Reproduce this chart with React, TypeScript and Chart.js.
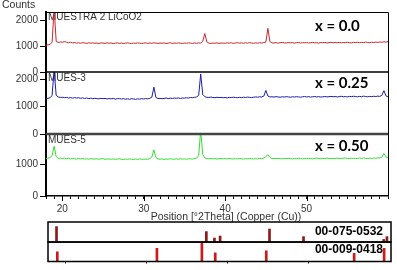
import React, { useEffect, useRef } from 'react';
import { Chart, registerables } from 'chart.js';

Chart.register(...registerables);

// 2Theta sampling grid (degrees), 0.25° step from 18 to 60
const angles: number[] = Array.from({ length: 169 }, (_, i) => 18 + i * 0.25);

// Counts, MUESTRA 2 LiCoO2 (x = 0.0)
const redCounts = [
  1030, 1045, 1060, 1150, 2450, 1180, 1130, 1160,
  1140, 1170, 1150, 1125, 1145, 1120, 1135, 1110,
  1125, 1105, 1130, 1115, 1100, 1125, 1110, 1120,
  1105, 1115, 1095, 1120, 1110, 1100, 1125, 1105,
  1115, 1090, 1110, 1120, 1100, 1115, 1095, 1110,
  1120, 1105, 1095, 1115, 1100, 1120, 1110, 1095,
  1110, 1120, 1100, 1115, 1105, 1125, 1110, 1100,
  1115, 1105, 1120, 1095, 1110, 1125, 1100, 1115,
  1105, 1120, 1110, 1095, 1115, 1105, 1120, 1110,
  1100, 1115, 1105, 1120, 1110, 1180, 1480, 1160,
  1110, 1100, 1115, 1105, 1120, 1100, 1115, 1110,
  1105, 1120, 1110, 1125, 1100, 1115, 1130, 1110,
  1120, 1105, 1125, 1110, 1130, 1115, 1105, 1120,
  1110, 1125, 1115, 1130, 1150, 1680, 1170, 1120,
  1115, 1130, 1110, 1125, 1140, 1120, 1115, 1135,
  1120, 1130, 1110, 1125, 1140, 1115, 1130, 1120,
  1135, 1115, 1125, 1140, 1120, 1130, 1110, 1135,
  1125, 1140, 1115, 1130, 1145, 1120, 1135, 1125,
  1140, 1120, 1135, 1125, 1145, 1130, 1120, 1140,
  1130, 1145, 1125, 1140, 1130, 1150, 1135, 1125,
  1145, 1135, 1150, 1140, 1155, 1145, 1160, 1150,
  1165,
];

// Counts, MUES-3 (x = 0.25)
const blueCounts = [
  1300, 1310, 1330, 1420, 2350, 1420, 1360, 1340,
  1350, 1330, 1345, 1320, 1340, 1315, 1335, 1320,
  1330, 1310, 1325, 1305, 1320, 1300, 1315, 1295,
  1310, 1300, 1290, 1310, 1295, 1305, 1285, 1300,
  1290, 1305, 1280, 1295, 1300, 1285, 1295, 1280,
  1290, 1275, 1295, 1285, 1270, 1290, 1280, 1295,
  1285, 1300, 1290, 1310, 1350, 1720, 1340, 1300,
  1310, 1295, 1305, 1320, 1300, 1315, 1305, 1320,
  1310, 1325, 1305, 1320, 1315, 1330, 1320, 1340,
  1330, 1345, 1360, 1420, 2200, 1450, 1370, 1345,
  1340, 1355, 1340, 1330, 1350, 1335, 1345, 1330,
  1340, 1325, 1345, 1335, 1350, 1340, 1330, 1345,
  1335, 1350, 1340, 1355, 1345, 1335, 1350, 1360,
  1350, 1365, 1360, 1390, 1600, 1395, 1360, 1365,
  1355, 1370, 1360, 1350, 1365, 1355, 1370, 1360,
  1350, 1365, 1355, 1370, 1360, 1350, 1365, 1375,
  1360, 1370, 1355, 1365, 1375, 1360, 1370, 1355,
  1365, 1375, 1360, 1370, 1380, 1365, 1375, 1360,
  1370, 1385, 1365, 1375, 1360, 1380, 1370, 1385,
  1375, 1365, 1380, 1370, 1390, 1375, 1365, 1380,
  1370, 1385, 1375, 1390, 1380, 1420, 1590, 1400,
  1360,
];

// Counts, MUES-5 (x = 0.50)
const greenCounts = [
  1200, 1210, 1220, 1300, 1590, 1260, 1200, 1215,
  1195, 1210, 1190, 1205, 1185, 1200, 1190, 1180,
  1195, 1185, 1200, 1180, 1190, 1175, 1195, 1185,
  1180, 1190, 1175, 1185, 1195, 1170, 1185, 1180,
  1175, 1185, 1170, 1180, 1190, 1175, 1165, 1180,
  1170, 1185, 1175, 1165, 1180, 1170, 1185, 1175,
  1170, 1180, 1175, 1190, 1250, 1470, 1230, 1180,
  1175, 1185, 1170, 1180, 1175, 1190, 1180, 1175,
  1185, 1175, 1190, 1180, 1185, 1175, 1190, 1185,
  1180, 1195, 1210, 1290, 2100, 1320, 1220, 1195,
  1190, 1200, 1185, 1195, 1180, 1190, 1200, 1185,
  1195, 1185, 1200, 1190, 1180, 1195, 1185, 1200,
  1190, 1180, 1195, 1185, 1200, 1190, 1185, 1195,
  1185, 1200, 1190, 1210, 1260, 1320, 1230, 1195,
  1200, 1190, 1205, 1195, 1185, 1200, 1190, 1205,
  1195, 1185, 1200, 1190, 1205, 1195, 1185, 1200,
  1190, 1205, 1195, 1185, 1200, 1210, 1195, 1190,
  1205, 1195, 1210, 1200, 1190, 1205, 1195, 1210,
  1200, 1190, 1205, 1215, 1200, 1195, 1210, 1200,
  1205, 1195, 1210, 1200, 1215, 1205, 1195, 1210,
  1200, 1215, 1205, 1220, 1210, 1240, 1360, 1250,
  1220,
];

const panelNames = ['MUESTRA 2 LiCoO2', 'MUES-3', 'MUES-5'];
const compositionLabels = ['x = 0.0', 'x = 0.25', 'x = 0.50'];
const panelMax = [2308, 2275, 1980];
const yTickValues = [0, 1000, 2000];
const xMajorTicks = [20, 30, 40, 50];

// Reference patterns (relative intensity)
const refCodes = ['00-075-0532', '00-009-0418'];
const licoo2Positions = [18.9, 37.4, 38.4, 39.1, 45.2, 49.4, 59.3, 59.7];
const licoo2Intensities = [77, 52, 20, 30, 65, 27, 13, 27];
const co3o4Positions = [19.0, 31.3, 36.85, 38.5, 44.8, 55.65, 59.35];
const co3o4Intensities = [50, 68, 93, 45, 55, 42, 68];

const AXIS_FONT = { family: '"Liberation Sans", Arial, sans-serif', size: 10 };

function yPanel(max: number, weight: number) {
  return {
    type: 'linear',
    min: 0,
    max,
    position: 'left',
    stack: 'panels',
    stackWeight: weight,
    offset: false,
    border: { display: true, color: '#000', width: 2 },
    grid: { display: true, drawOnChartArea: false, drawTicks: true, tickLength: 6, color: '#000', lineWidth: 1 },
    ticks: { font: AXIS_FONT, color: '#333', padding: 2, autoSkip: false, callback: (v: any) => String(v) },
    afterBuildTicks: (s: any) => {
      s.ticks = yTickValues.filter((v) => v <= s.max).map((v) => ({ value: v }));
    },
    afterFit: (s: any) => {
      s.width = 46;
    },
  };
}

const mainPlugin = {
  id: 'mainDecor',
  beforeDatasetsDraw(chart: any) {
    const ctx = chart.ctx;
    const ids = ['yRed', 'yBlue', 'yGreen'];
    const nameOffsets = [5, 6, 6];
    const compOffsets = [14.5, 11.5, 12.5];
    ctx.save();
    ids.forEach((id, k) => {
      const s = chart.scales[id];
      ctx.font = '10px "Liberation Sans", Arial, sans-serif';
      ctx.fillStyle = '#333';
      ctx.textAlign = 'left';
      ctx.textBaseline = 'middle';
      ctx.fillText(panelNames[k], chart.chartArea.left + 2, s.top + nameOffsets[k]);
      ctx.font = 'bold 15px Lato, sans-serif';
      ctx.fillStyle = '#000';
      ctx.fillText(compositionLabels[k], chart.chartArea.right - 73, s.top + compOffsets[k]);
    });
    ctx.restore();
  },
  afterDraw(chart: any) {
    const ctx = chart.ctx;
    const { left, right, top, bottom } = chart.chartArea;
    ctx.save();
    ctx.strokeStyle = '#000';
    ctx.lineWidth = 1;
    ctx.beginPath();
    ctx.moveTo(left, top + 0.5);
    ctx.lineTo(right + 0.5, top + 0.5);
    ctx.lineTo(right + 0.5, bottom);
    ctx.stroke();
    // divider red/blue
    const yr = chart.scales.yRed;
    ctx.lineWidth = 1.5;
    ctx.beginPath();
    ctx.moveTo(left, yr.bottom);
    ctx.lineTo(right, yr.bottom);
    ctx.stroke();
    // divider blue/green
    const yb = chart.scales.yBlue;
    ctx.strokeStyle = '#444';
    ctx.lineWidth = 2.5;
    ctx.beginPath();
    ctx.moveTo(left, yb.bottom);
    ctx.lineTo(right, yb.bottom);
    ctx.stroke();
    // major x ticks
    const xs = chart.scales.x;
    ctx.strokeStyle = '#000';
    ctx.lineWidth = 1;
    xMajorTicks.forEach((v) => {
      const px = Math.round(xs.getPixelForValue(v)) + 0.5;
      ctx.beginPath();
      ctx.moveTo(px, bottom);
      ctx.lineTo(px, bottom + 5);
      ctx.stroke();
    });
    // texts
    ctx.fillStyle = '#333';
    ctx.font = '10.5px "Liberation Sans", Arial, sans-serif';
    ctx.textBaseline = 'middle';
    ctx.textAlign = 'left';
    ctx.fillText('Counts', 2, 5);
    ctx.textAlign = 'center';
    ctx.fillText('Position [°2Theta] (Copper (Cu))', 226, 217);
    ctx.restore();
  },
};

const refPlugin = {
  id: 'refDecor',
  afterDraw(chart: any) {
    const ctx = chart.ctx;
    const { left, right } = chart.chartArea;
    ctx.save();
    ['yLi', 'yCo'].forEach((id, k) => {
      const s = chart.scales[id];
      ctx.strokeStyle = '#000';
      ctx.lineWidth = 1.5;
      ctx.strokeRect(left, s.top, right - left, s.bottom - s.top);
      ctx.font = 'bold 12px "Liberation Sans", Arial, sans-serif';
      ctx.fillStyle = '#000';
      ctx.textAlign = 'right';
      ctx.textBaseline = 'middle';
      ctx.fillText(refCodes[k], right - 8, s.top + (k === 0 ? 9.5 : 8));
    });
    ctx.restore();
  },
};

function refAxis(weight: number) {
  return {
    type: 'linear',
    min: 0,
    max: 100,
    position: 'left',
    stack: 'refs',
    stackWeight: weight,
    offset: false,
    border: { display: false },
    grid: { display: false },
    ticks: { display: false },
    afterFit: (s: any) => {
      s.width = 48;
    },
  };
}

export default function App() {
  const mainRef = useRef<HTMLCanvasElement>(null);
  const refRef = useRef<HTMLCanvasElement>(null);

  useEffect(() => {
    const mk = (ys: number[]) => angles.map((a, i) => ({ x: a, y: ys[i] }));
    const main = new Chart(mainRef.current as HTMLCanvasElement, {
      type: 'line',
      data: {
        datasets: [
          { data: mk(redCounts), yAxisID: 'yRed', borderColor: '#c8262e', borderWidth: 1, pointRadius: 0, tension: 0 },
          { data: mk(blueCounts), yAxisID: 'yBlue', borderColor: '#1c1ca8', borderWidth: 1, pointRadius: 0, tension: 0 },
          { data: mk(greenCounts), yAxisID: 'yGreen', borderColor: '#33dd33', borderWidth: 1, pointRadius: 0, tension: 0 },
        ],
      },
      options: {
        animation: false,
        responsive: false,
        devicePixelRatio: 1,
        events: [],
        layout: { padding: { top: 12, right: 9, left: 0, bottom: 0 } },
        plugins: { legend: { display: false }, tooltip: { enabled: false } },
        scales: {
          x: {
            type: 'linear',
            min: 18,
            max: 60,
            position: 'bottom',
            offset: false,
            border: { display: true, color: '#000', width: 1.5 },
            grid: { display: true, drawOnChartArea: false, drawTicks: true, tickLength: 3, color: '#000' },
            ticks: {
              stepSize: 1,
              autoSkip: false,
              maxRotation: 0,
              padding: 4,
              font: AXIS_FONT,
              color: '#333',
              callback: (v: any) => (xMajorTicks.includes(Number(v)) ? String(v) : ''),
            },
            afterFit: (s: any) => {
              s.height = 29;
            },
          },
          yGreen: yPanel(panelMax[2], 62),
          yBlue: yPanel(panelMax[1], 62),
          yRed: yPanel(panelMax[0], 60),
        } as any,
      },
      plugins: [mainPlugin],
    } as any);

    const refs = new Chart(refRef.current as HTMLCanvasElement, {
      type: 'bar',
      data: {
        datasets: [
          {
            data: licoo2Positions.map((p, i) => ({ x: p, y: licoo2Intensities[i] })),
            yAxisID: 'yLi',
            backgroundColor: '#8b1a1a',
            barThickness: 2,
            grouped: false,
          },
          {
            data: co3o4Positions.map((p, i) => ({ x: p, y: co3o4Intensities[i] })),
            yAxisID: 'yCo',
            backgroundColor: '#cc1a1a',
            barThickness: 2,
            grouped: false,
          },
        ],
      },
      options: {
        animation: false,
        responsive: false,
        devicePixelRatio: 1,
        events: [],
        layout: { padding: { top: 2, right: 6, left: 0, bottom: 0 } },
        plugins: { legend: { display: false }, tooltip: { enabled: false } },
        scales: {
          x: {
            type: 'linear',
            min: 17.85,
            max: 60.2,
            offset: false,
            border: { display: false },
            grid: { display: true, offset: false, drawOnChartArea: false, drawTicks: true, tickLength: 2, color: '#000' },
            ticks: { display: false },
            afterBuildTicks: (s: any) => {
              s.ticks = xMajorTicks.map((v) => ({ value: v }));
            },
            afterFit: (s: any) => {
              s.height = 8.5;
            },
          },
          yCo: refAxis(1),
          yLi: refAxis(1.03),
        } as any,
      },
      plugins: [refPlugin],
    } as any);

    return () => {
      main.destroy();
      refs.destroy();
    };
  }, []);

  return (
    <div style={{ position: 'fixed', left: 0, top: 0, width: 397, height: 270, background: '#fff', overflow: 'hidden' }}>
      <canvas ref={mainRef} width={397} height={225} style={{ position: 'absolute', left: 0, top: 0, width: 397, height: 225 }} />
      <canvas ref={refRef} width={397} height={50} style={{ position: 'absolute', left: 0, top: 220, width: 397, height: 50 }} />
    </div>
  );
}
